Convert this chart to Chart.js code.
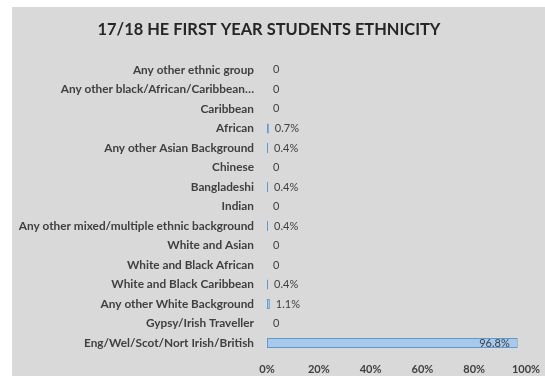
<!DOCTYPE html>
<html>
<head>
<meta charset="utf-8">
<script src="https://cdn.jsdelivr.net/npm/chart.js@4/dist/chart.umd.min.js"></script>
<style>
  html, body { margin: 0; padding: 0; background: #fff; }
  #box {
    position: absolute; left: 12px; top: 7px;
    width: 533px; height: 369px; background: #d9d9d9;
  }
</style>
</head>
<body>
<div id="box"><canvas id="ethnicity"></canvas></div>
<script>
// first year students by ethnicity, share of total (%)
const categories = [
  'Any other ethnic group',
  'Any other black/African/Caribbean…',
  'Caribbean',
  'African',
  'Any other Asian Background',
  'Chinese',
  'Bangladeshi',
  'Indian',
  'Any other mixed/multiple ethnic background',
  'White and Asian',
  'White and Black African',
  'White and Black Caribbean',
  'Any other White Background',
  'Gypsy/Irish Traveller',
  'Eng/Wel/Scot/Nort Irish/British'
];
const shares = [0, 0, 0, 0.7, 0.4, 0, 0.4, 0, 0.4, 0, 0, 0.4, 1.1, 0, 96.8];
const xTicks = [0, 20, 40, 60, 80, 100];

const FONT = 'Lato, "Open Sans", sans-serif';
const TEXT = '#404040';

// value labels next to each bar (inside the end for the big one)
const barLabels = {
  id: 'barLabels',
  afterDatasetsDraw(chart) {
    const ctx = chart.ctx;
    const meta = chart.getDatasetMeta(0);
    ctx.save();
    ctx.font = '11px ' + FONT;
    ctx.fillStyle = TEXT;
    ctx.textBaseline = 'middle';
    meta.data.forEach((bar, i) => {
      const v = shares[i];
      const txt = v === 0 ? '0' : v.toFixed(1) + '%';
      if (v > 50) {
        ctx.textAlign = 'right';
        ctx.fillText(txt, bar.x - 8, bar.y);
      } else {
        ctx.textAlign = 'left';
        ctx.fillText(txt, bar.x + 6, bar.y);
      }
    });
    ctx.restore();
  }
};

new Chart(document.getElementById('ethnicity'), {
  type: 'bar',
  data: {
    labels: categories,
    datasets: [{
      data: shares,
      backgroundColor: '#a9c8ea',
      borderColor: '#5b9bd5',
      borderWidth: 1,
      borderSkipped: false,
      barPercentage: 0.52,
      categoryPercentage: 1
    }]
  },
  options: {
    indexAxis: 'y',
    responsive: true,
    maintainAspectRatio: false,
    animation: false,
    layout: { padding: { left: 0, right: 19, top: 0, bottom: -10 } },
    plugins: {
      legend: { display: false },
      tooltip: { enabled: false },
      title: {
        display: true,
        text: '17/18 HE FIRST YEAR STUDENTS ETHNICITY',
        color: '#262626',
        font: { family: FONT, size: 16.4, weight: 'bold' },
        padding: { top: 13, bottom: 20.5 }
      }
    },
    scales: {
      x: {
        min: 0,
        max: 100,
        afterBuildTicks(scale) {
          scale.ticks = xTicks.map(v => ({ value: v }));
        },
        afterFit(scale) { scale.paddingRight = 0; scale.paddingLeft = 0; },
        grid: { display: false, drawTicks: false },
        border: { display: false },
        ticks: {
          padding: 10,
          color: TEXT,
          font: { family: FONT, size: 11, weight: 'bold' },
          callback: v => v + '%'
        }
      },
      y: {
        grid: { display: false, drawTicks: false },
        border: { display: false },
        afterFit(scale) { scale.width = 255; },
        ticks: {
          padding: 13,
          color: TEXT,
          autoSkip: false,
          font: { family: FONT, size: 11.8, weight: 'bold' }
        }
      }
    }
  },
  plugins: [barLabels]
});
</script>
</body>
</html>
